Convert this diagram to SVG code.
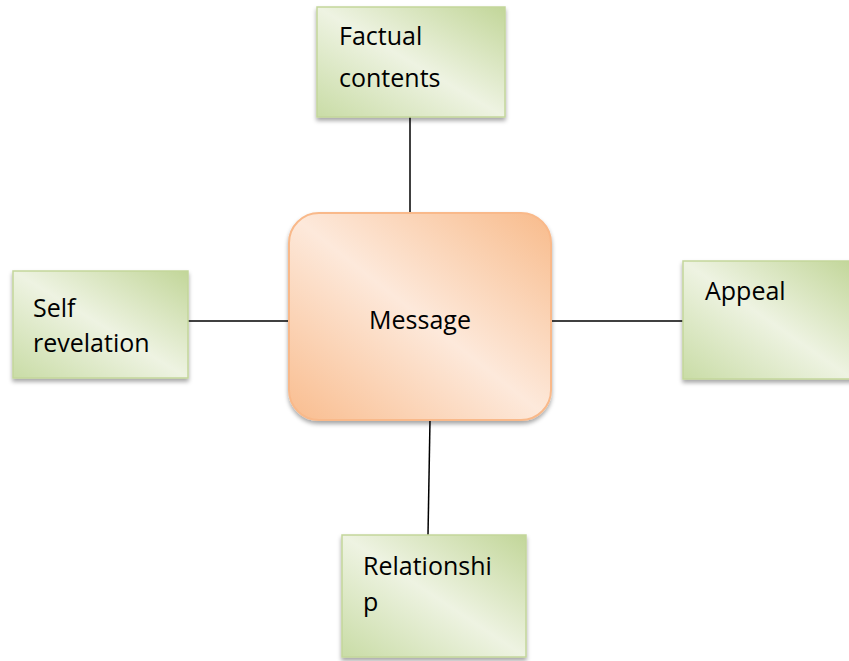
<svg xmlns="http://www.w3.org/2000/svg" width="849" height="661" viewBox="0 0 849 661">
<defs>
<linearGradient id="gGreen" x1="0" y1="1" x2="1" y2="0">
<stop offset="0" stop-color="#c9dca6"/>
<stop offset="0.5" stop-color="#eef3e2"/>
<stop offset="1" stop-color="#c2d699"/>
</linearGradient>
<linearGradient id="gOrange" x1="0" y1="1" x2="1" y2="0">
<stop offset="0" stop-color="#f9bd8f"/>
<stop offset="0.5" stop-color="#fde9db"/>
<stop offset="1" stop-color="#f8bb8b"/>
</linearGradient>
<filter id="shadow" x="-10%" y="-10%" width="120%" height="130%">
<feDropShadow dx="0" dy="3" stdDeviation="2" flood-color="#000" flood-opacity="0.35"/>
</filter>
</defs>
<style>
.box{fill:url(#gGreen);stroke:#c3d69b;stroke-width:1.5;filter:url(#shadow)}
.msg{fill:url(#gOrange);stroke:#f9b98a;stroke-width:2;filter:url(#shadow)}
.lbl{font-family:"Open Sans","Liberation Sans",sans-serif;font-size:25px;fill:#000}
.conn{stroke:#000;stroke-width:1.5;fill:none}
</style>
<rect width="849" height="661" fill="#fff"/>
<g id="connectors">
<line class="conn" x1="410" y1="117" x2="410" y2="213"/>
<line class="conn" x1="430" y1="420" x2="428" y2="535"/>
<line class="conn" x1="188" y1="321" x2="289" y2="321"/>
<line class="conn" x1="551" y1="321" x2="683" y2="321"/>
</g>
<g id="factual">
<rect class="box" x="317" y="7" width="188" height="110"/>
<text class="lbl" x="339" y="45">Factual</text>
<text class="lbl" x="339" y="87">contents</text>
</g>
<g id="message">
<rect class="msg" x="289" y="213" width="262" height="207" rx="30" ry="30"/>
<text class="lbl" x="420" y="329" text-anchor="middle">Message</text>
</g>
<g id="self">
<rect class="box" x="13" y="271" width="175" height="107"/>
<text class="lbl" x="33" y="317">Self</text>
<text class="lbl" x="33" y="352">revelation</text>
</g>
<g id="appeal">
<rect class="box" x="683" y="261" width="170" height="118"/>
<text class="lbl" x="705" y="300">Appeal</text>
</g>
<g id="relationship">
<rect class="box" x="342" y="535" width="184" height="122"/>
<text class="lbl" x="363" y="575">Relationshi</text>
<text class="lbl" x="363" y="611">p</text>
</g>
</svg>
